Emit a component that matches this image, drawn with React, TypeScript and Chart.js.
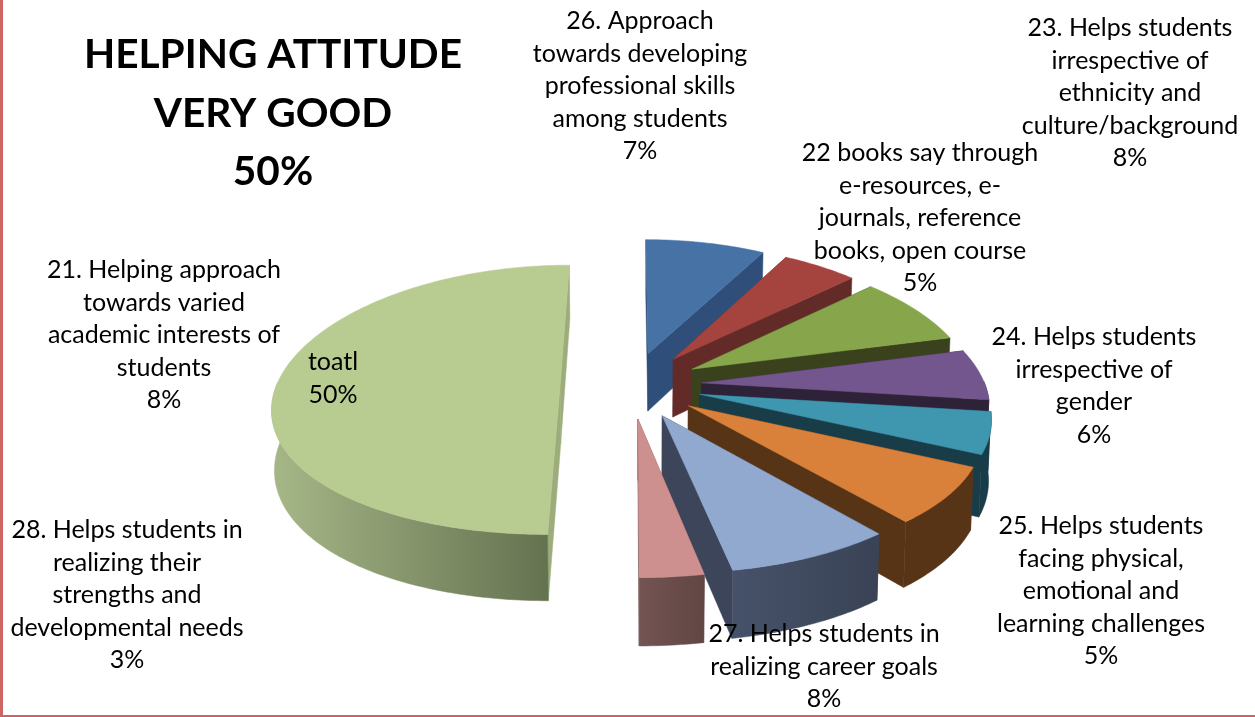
import React, { useEffect, useRef } from "react";
import { Chart, registerables } from "chart.js";

Chart.register(...registerables);

const categories = [
  "21. Helping approach towards varied academic interests of students",
  "22 books say through e-resources, e-journals, reference books, open course",
  "23. Helps students irrespective of ethnicity and culture/background",
  "24. Helps students irrespective of gender",
  "25. Helps students facing physical, emotional and learning challenges",
  "26. Approach towards developing professional skills among students",
  "27. Helps students in realizing career goals",
  "28. Helps students in realizing their strengths and developmental needs",
  "toatl",
];
const values = [8, 5, 8, 6, 5, 7, 8, 3, 50];
const labelLines = [
  ["21. Helping approach", "towards varied", "academic interests of", "students"],
  ["22 books say through", "e-resources, e-", "journals, reference", "books, open course"],
  ["23. Helps students", "irrespective of", "ethnicity and", "culture/background"],
  ["24. Helps students", "irrespective of", "gender"],
  ["25. Helps students", "facing physical,", "emotional and", "learning challenges"],
  ["26. Approach", "towards developing", "professional skills", "among students"],
  ["27. Helps students in", "realizing career goals"],
  ["28. Helps students in", "realizing their", "strengths and", "developmental needs"],
  ["toatl"],
];
const titleLines = ["HELPING ATTITUDE", "VERY GOOD", "50%"];

// layout and styling
const labelAnchors = [
  [164, 270], [920, 153], [1130, 28], [1094, 337], [1101, 526],
  [640, 21], [824, 634], [127, 530], [333, 362],
];
const topColors = ["#4672A6", "#A5433F", "#87A64C", "#72568D", "#3E96AF", "#D9813B", "#91A8CF", "#CE908E", "#B8CB91"];
const sideColors = ["#2F4F7A", "#632B28", "#3A421D", "#2E2239", "#193D48", "#583417", "#3C4559", "#735250", "#9CAD7B"];
const wallFrom = ["#2F4F7A", "#632B28", "#3A421D", "#2E2239", "#193D48", "#583417", "#46526A", "#745452", "#A6B787"];
const wallTo = ["#2F4F7A", "#632B28", "#3A421D", "#2E2239", "#193D48", "#583417", "#3A4355", "#604644", "#657250"];

const CX = 631, CY = 385, AX = 283.5, BY = 133, PERSP_X = 0.15, PERSP_Y = 0.11, DEPTH = 59, DEPTH_SHRINK = 0.008;
const FONT = "Lato, 'Open Sans', sans-serif";
const BODY_SIZE = 25, LINE_H = 32.6;

function project(u: number, v: number, z: number): [number, number] {
  const sx = 1 / (1 - PERSP_X * v);
  const sy = 1 / (1 - PERSP_Y * v);
  return [CX + AX * u * sx * (1 - DEPTH_SHRINK * z), CY + (BY * v + DEPTH * z) * sy];
}

function poly(ctx: CanvasRenderingContext2D, pts: [number, number][], fill: string | CanvasGradient) {
  ctx.beginPath();
  pts.forEach((p, i) => (i ? ctx.lineTo(p[0], p[1]) : ctx.moveTo(p[0], p[1])));
  ctx.closePath();
  ctx.fillStyle = fill;
  ctx.fill();
  ctx.strokeStyle = fill;
  ctx.lineWidth = 0.5;
  ctx.stroke();
}

const pie3d = {
  id: "pie3d",
  beforeDatasetsDraw(chart: any) {
    const ctx: CanvasRenderingContext2D = chart.ctx;
    const arcs = chart.getDatasetMeta(0).data.map((arc: any, index: number) => {
      const mid = (arc.startAngle + arc.endAngle) / 2;
      return { arc, index, mid };
    });
    arcs.sort((a: any, b: any) => Math.sin(a.mid) - Math.sin(b.mid));
    for (const { arc, index, mid } of arcs) {
      const d = arc.options.offset / arc.outerRadius;
      const ou = Math.cos(mid) * d, ov = Math.sin(mid) * d;
      const steps = Math.max(2, Math.ceil(((arc.endAngle - arc.startAngle) * 180) / Math.PI));
      const ring: [number, number][] = [];
      for (let i = 0; i <= steps; i++) {
        const a = arc.startAngle + ((arc.endAngle - arc.startAngle) * i) / steps;
        ring.push([ou + Math.cos(a), ov + Math.sin(a)]);
      }
      const top = (p: [number, number]) => project(p[0], p[1], 0);
      const bot = (p: [number, number]) => project(p[0], p[1], 1);
      const apex: [number, number] = [ou, ov];
      const first = ring[0], last = ring[ring.length - 1];
      const radial = [first, last].sort((a, b) => a[1] - b[1]);
      for (const edge of radial) {
        poly(ctx, [top(apex), top(edge), bot(edge), bot(apex)], sideColors[index]);
      }
      const front = ring.filter((p) => p[1] - ov > -0.02);
      if (front.length > 1) {
        const wall = [...front.map(top), ...front.slice().reverse().map(bot)];
        const xs = wall.map((p) => p[0]);
        const g = ctx.createLinearGradient(Math.min(...xs), 0, Math.max(...xs), 0);
        g.addColorStop(0, wallFrom[index]);
        g.addColorStop(1, wallTo[index]);
        poly(ctx, wall, g);
      }
      poly(ctx, [top(apex), ...ring.map(top)], topColors[index]);
    }
    return false;
  },
  afterDraw(chart: any) {
    const ctx: CanvasRenderingContext2D = chart.ctx;
    ctx.save();
    ctx.textAlign = "center";
    ctx.textBaseline = "middle";
    ctx.fillStyle = "#000";
    ctx.font = `bold 40.6px ${FONT}`;
    titleLines.forEach((t, i) => ctx.fillText(t, 273, 55 + i * 58.5));
    ctx.font = `${BODY_SIZE}px ${FONT}`;
    labelLines.forEach((lines, i) => {
      const [x, y] = labelAnchors[i];
      [...lines, `${values[i]}%`].forEach((t, j) => ctx.fillText(t, x, y + j * LINE_H));
    });
    ctx.restore();
  },
};

export default function App() {
  const ref = useRef<HTMLCanvasElement>(null);
  useEffect(() => {
    document.body.style.margin = "0";
    const chart = new Chart(ref.current!, {
      type: "pie",
      data: {
        labels: categories,
        datasets: [{ data: values, backgroundColor: topColors, offset: 72, borderWidth: 0, clip: false } as any],
      },
      options: {
        responsive: false,
        animation: false,
        rotation: 0,
        radius: 288,
        plugins: { legend: { display: false }, tooltip: { enabled: false } },
      } as any,
      plugins: [pie3d as any],
    });
    return () => chart.destroy();
  }, []);
  return (
    <div style={{ position: "fixed", left: 0, top: 0, width: 1255, height: 717, background: "#fff", overflow: "hidden" }}>
      <canvas ref={ref} width={1255} height={717} style={{ display: "block", position: "absolute", left: 0, top: 0 }} />
      <div style={{ position: "absolute", left: 0, top: 0, width: 3, height: 717, background: "#CC6664" }} />
      <div style={{ position: "absolute", left: 0, top: 715, width: 1255, height: 2, background: "#CC6664" }} />
    </div>
  );
}
